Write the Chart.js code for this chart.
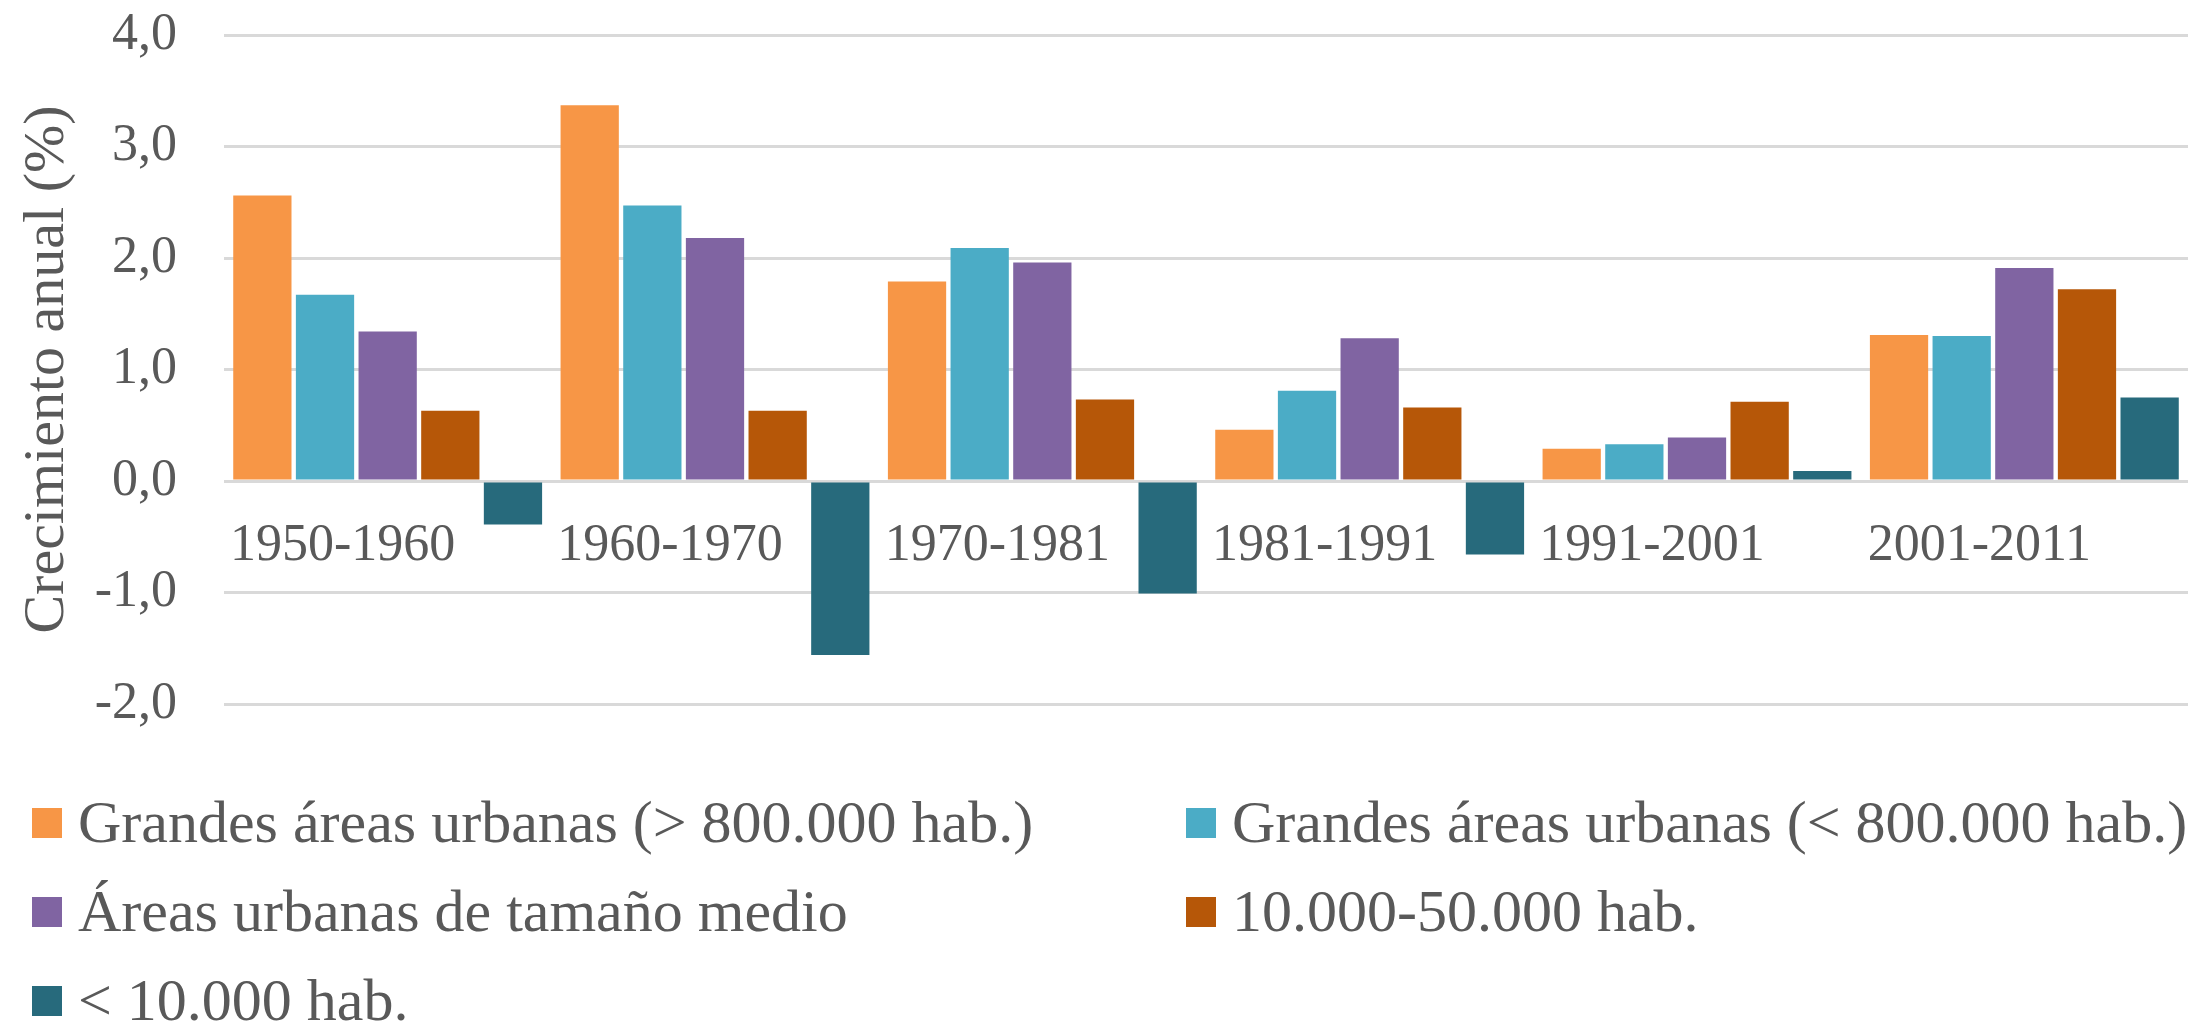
<!DOCTYPE html>
<html>
<head>
<meta charset="utf-8">
<script src="https://cdn.jsdelivr.net/npm/chart.js@4.4.1/dist/chart.umd.min.js"></script>
<style>
    body { margin: 0; background: #fff; }
    #wrap { position: relative; width: 2197px; height: 778px; }
    #legend {
        display: grid;
        grid-template-columns: 1154px auto;
        grid-auto-rows: 89px;
        padding-left: 32px;
        font-family: "Liberation Serif", "Times New Roman", serif;
        font-size: 60px;
        color: #595959;
    }
    .item { display: flex; align-items: center; white-space: nowrap; }
    .box { width: 30px; height: 30px; margin-right: 16px; flex: none; }
</style>
</head>
<body>
<div id="wrap"><canvas id="chart"></canvas></div>
<div id="legend"></div>
<script>
var periods = ['1950-1960', '1960-1970', '1970-1981', '1981-1991', '1991-2001', '2001-2011'];
var seriesNames = [
    'Grandes áreas urbanas (> 800.000 hab.)',
    'Grandes áreas urbanas (< 800.000 hab.)',
    'Áreas urbanas de tamaño medio',
    '10.000-50.000 hab.',
    '< 10.000 hab.'
];
var grandesMas800 = [2.56, 3.37, 1.79, 0.46, 0.29, 1.31];
var grandesMenos800 = [1.67, 2.47, 2.09, 0.81, 0.33, 1.30];
var tamanoMedio = [1.34, 2.18, 1.96, 1.28, 0.39, 1.91];
var de10a50mil = [0.63, 0.63, 0.73, 0.66, 0.71, 1.72];
var menos10mil = [-0.39, -1.56, -1.01, -0.66, 0.09, 0.75];
var yTicks = [-2, -1, 0, 1, 2, 3, 4];

var colors = ['#F79646', '#4BACC6', '#8064A2', '#B65708', '#276A7C'];
var serif = '"Liberation Serif", "Times New Roman", serif';
var textColor = '#595959';

var allSeries = [grandesMas800, grandesMenos800, tamanoMedio, de10a50mil, menos10mil];

var ctx = document.getElementById('chart');
var chart = new Chart(ctx, {
    type: 'bar',
    data: {
        labels: periods,
        datasets: allSeries.map(function (vals, i) {
            return {
                label: seriesNames[i],
                data: vals,
                backgroundColor: colors[i],
                categoryPercentage: 0.957,
                barPercentage: 0.93
            };
        })
    },
    options: {
        responsive: true,
        maintainAspectRatio: false,
        animation: false,
        layout: {
            padding: { top: 35, left: 13, right: 9, bottom: 74 }
        },
        plugins: {
            legend: { display: false },
            tooltip: { enabled: false }
        },
        scales: {
            x: {
                position: { y: 0 },
                grid: { display: false, drawTicks: false },
                border: { display: false },
                ticks: {
                    padding: 34,
                    labelOffset: -45, // labels sit a bit left of the group centre
                    color: textColor,
                    font: { family: serif, size: 52 },
                    maxRotation: 0
                },
                afterFit: function (scale) {
                    scale.paddingLeft = 0;
                    scale.paddingRight = 0;
                    scale.paddingTop = 0;
                    scale.paddingBottom = 0;
                }
            },
            y: {
                min: yTicks[0],
                max: yTicks[yTicks.length - 1],
                afterBuildTicks: function (scale) {
                    scale.ticks = yTicks.map(function (v) { return { value: v }; });
                },
                // fixed axis width so the plot starts where the original does
                afterFit: function (scale) {
                    scale.width = 211;
                    scale.paddingTop = 0;
                    scale.paddingBottom = 0;
                },
                grid: {
                    color: '#D9D9D9',
                    lineWidth: 3,
                    drawTicks: false
                },
                border: { display: false },
                ticks: {
                    padding: 47,
                    color: textColor,
                    font: { family: serif, size: 52 },
                    callback: function (v) { return v.toFixed(1).replace('.', ','); }
                },
                title: {
                    display: true,
                    text: 'Crecimiento anual (%)',
                    color: textColor,
                    font: { family: serif, size: 58 },
                    padding: { top: 0, bottom: 12 }
                }
            }
        }
    }
});

// legend in two columns like the original
var legendEl = document.getElementById('legend');
chart.data.datasets.forEach(function (ds) {
    var item = document.createElement('div');
    item.className = 'item';
    var box = document.createElement('span');
    box.className = 'box';
    box.style.background = ds.backgroundColor;
    var txt = document.createElement('span');
    txt.textContent = ds.label;
    item.appendChild(box);
    item.appendChild(txt);
    legendEl.appendChild(item);
});
</script>
</body>
</html>
